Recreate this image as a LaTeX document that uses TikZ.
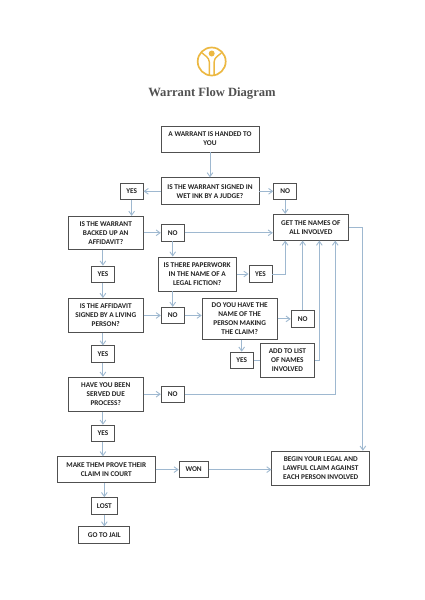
\documentclass[tikz,border=0pt]{standalone}
\usepackage{fontspec}
\setsansfont{Carlito}
\newfontfamily\titlefont{Liberation Serif}
\usepackage{tikz}
\usetikzlibrary{positioning,arrows.meta}
\definecolor{flowEdge}{RGB}{158,184,208}
\definecolor{flowLine}{RGB}{80,80,80}
\definecolor{flowText}{RGB}{35,35,35}
\definecolor{logoGold}{RGB}{236,184,66}
\tikzset{
    box/.style={draw=flowLine, line width=0.8pt, fill=white, text=flowText, align=center,
        font=\fontsize{7.3}{9}\sffamily\bfseries, inner sep=0pt},
    widebox/.style={box, minimum width=3.44cm, minimum height=#1},
    textbox/.style={box, minimum width=2.64cm, minimum height=#1},
    answer/.style={box, minimum width=0.81cm, minimum height=0.58cm},
    arr/.style={-{Straight Barb[length=1.4mm,width=2mm]}, flowEdge, line width=0.9pt},
    plainline/.style={flowEdge, line width=0.9pt}
}
\begin{document}
\begin{tikzpicture}
\useasboundingbox (0,0) rectangle (424pt,-600pt);
% logo
\draw[logoGold, line width=1.7pt] (211.7pt,-61.5pt) circle (14pt);
\fill[logoGold] (211.7pt,-53.5pt) circle (3pt);
\draw[logoGold, line width=1.4pt] (201pt,-52pt) .. controls (205pt,-56pt) and (209pt,-57pt) .. (209.3pt,-62pt) -- (209.3pt,-75pt);
\draw[logoGold, line width=1.4pt] (222.4pt,-52pt) .. controls (218.4pt,-56pt) and (214.4pt,-57pt) .. (214.1pt,-62pt) -- (214.1pt,-75pt);
\node[font=\fontsize{12.6}{15}\titlefont\bfseries, text=flowLine] (title) at (212pt,-93.5pt) {Warrant Flow Diagram};

% left and middle column
\node[widebox=0.91cm] (start) at (210pt,-139pt) {A WARRANT IS HANDED TO\\YOU};
\node[widebox=0.95cm, below=0.88cm of start] (signed) {IS THE WARRANT SIGNED IN\\WET INK BY A JUDGE?};
\node[answer, left=0.6cm of signed] (yesSigned) {YES};
\node[answer, right=0.49cm of signed] (noSigned) {NO};
\node[textbox=1.16cm, below=0.56cm of yesSigned, xshift=-0.91cm] (backed) {IS THE WARRANT\\BACKED UP AN\\AFFIDAVIT?};
\node[answer, right=0.6cm of backed] (noBacked) {NO};
\node[textbox=0.91cm, below=0.49cm of noSigned, xshift=0.9cm] (names) {GET THE NAMES OF\\ALL INVOLVED};
\node[answer, below=0.56cm of backed, xshift=-0.1cm] (yesBacked) {YES};
\node[box, minimum width=2.74cm, minimum height=1.2cm, below=0.53cm of noBacked, xshift=0.86cm] (paper) {IS THERE PAPERWORK\\IN THE NAME OF A\\LEGAL FICTION?};
\node[answer, right=0.42cm of paper] (yesPaper) {YES};
\node[textbox=1.2cm, below=0.53cm of yesBacked, xshift=0.1cm] (affidavit) {IS THE AFFIDAVIT\\SIGNED BY A LIVING\\PERSON?};
\node[answer, right=0.6cm of affidavit] (noAffidavit) {NO};
\node[textbox=1.44cm, right=0.6cm of noAffidavit, yshift=-0.12cm] (claim) {DO YOU HAVE THE\\NAME OF THE\\PERSON MAKING\\THE CLAIM?};
\node[answer, right=0.46cm of claim] (noClaim) {NO};
\node[answer, below=0.42cm of claim, xshift=0.07cm] (yesClaim) {YES};
\node[box, minimum width=1.93cm, minimum height=1.2cm, right=0.21cm of yesClaim] (add) {ADD TO LIST\\OF NAMES\\INVOLVED};
\node[answer, below=0.44cm of affidavit, xshift=-0.1cm] (yesAffidavit) {YES};
\node[textbox=1.2cm, below=0.49cm of yesAffidavit, xshift=0.1cm] (served) {HAVE YOU BEEN\\SERVED DUE\\PROCESS?};
\node[answer, right=0.6cm of served] (noServed) {NO};
\node[answer, below=0.46cm of served, xshift=-0.1cm] (yesServed) {YES};
\node[widebox=0.91cm, below=0.5cm of yesServed, xshift=0.12cm] (prove) {MAKE THEM PROVE THEIR\\CLAIM IN COURT};
\node[box, minimum width=1.02cm, minimum height=0.58cm, right=0.81cm of prove] (won) {WON};
\node[widebox=1.2cm, right=2.21cm of won, yshift=0.05cm] (begin) {BEGIN YOUR LEGAL AND\\LAWFUL CLAIM AGAINST\\EACH PERSON INVOLVED};
\node[box, minimum width=0.91cm, minimum height=0.58cm, below=0.5cm of prove, xshift=-0.07cm] (lost) {LOST};
\node[box, minimum width=1.79cm, minimum height=0.58cm, below=0.42cm of lost] (jail) {GO TO JAIL};

% connectors
\draw[arr] (start) -- (signed);
\draw[arr] (signed) -- (yesSigned);
\draw[arr] (signed) -- (noSigned);
\draw[arr] (yesSigned.south) -- (yesSigned.south |- backed.north);
\draw[arr] (noSigned.south) -- (noSigned.south |- names.north);
\draw[arr] (backed) -- (noBacked);
\draw[arr] (noBacked.east) -- (noBacked.east -| names.west);
\draw[arr] (noBacked.south) -- (noBacked.south |- paper.north);
\draw[arr] (yesBacked.north |- backed.south) -- (yesBacked.north);
\draw[arr] (yesBacked.south) -- (yesBacked.south |- affidavit.north);
\draw[arr] (paper.east |- yesPaper.west) -- (yesPaper.west);
\draw[arr] (yesPaper.east) -| ([xshift=-0.9cm]names.south);
\draw[arr] (noAffidavit.north |- paper.south) -- (noAffidavit.north);
\draw[arr] (affidavit) -- (noAffidavit);
\draw[arr] (noAffidavit.east) -- (noAffidavit.east -| claim.west);
\draw[arr] (claim.east |- noClaim.west) -- (noClaim.west);
\draw[arr] (noClaim.north) -- (noClaim.north |- names.south);
\draw[arr] (yesClaim.north |- claim.south) -- (yesClaim.north);
\draw[plainline] (yesClaim) -- (add);
\draw[arr] (add.east) -| ([xshift=0.3cm]names.south);
\draw[arr] (yesAffidavit.north |- affidavit.south) -- (yesAffidavit.north);
\draw[arr] (yesAffidavit.south) -- (yesAffidavit.south |- served.north);
\draw[arr] (served) -- (noServed);
\draw[arr] (noServed.east) -| ([xshift=0.86cm]names.south);
\draw[arr] (yesServed.north |- served.south) -- (yesServed.north);
\draw[arr] (yesServed.south) -- (yesServed.south |- prove.north);
\draw[arr] (prove) -- (won);
\draw[arr] (won.east) -- (won.east -| begin.west);
\draw[arr] (names.east) -| ([xshift=1.48cm]begin.north);
\draw[arr] (lost.north |- prove.south) -- (lost.north);
\draw[arr] (lost) -- (jail);
\end{tikzpicture}
\end{document}
